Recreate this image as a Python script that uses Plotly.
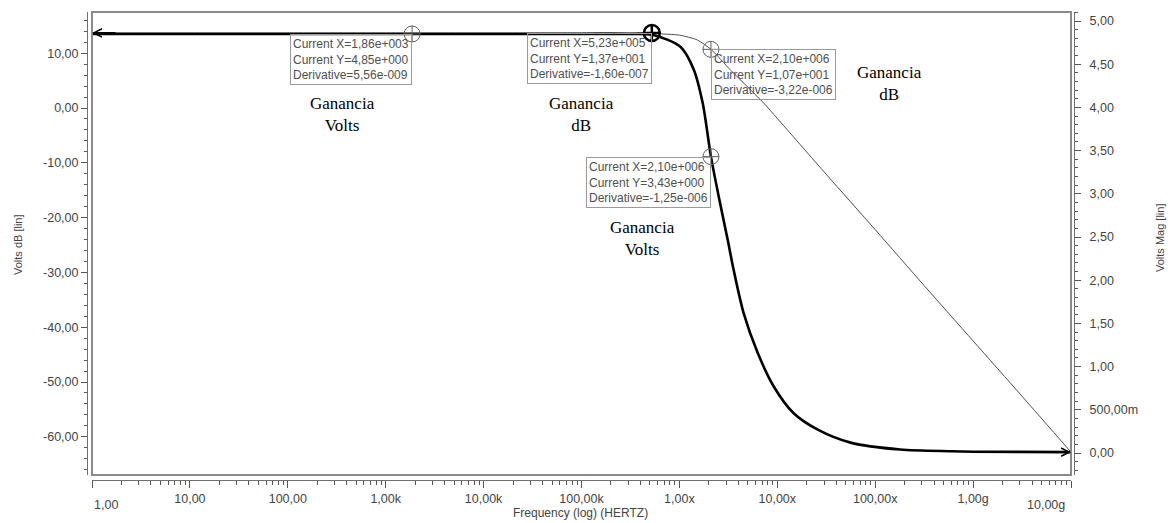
import math
import plotly.graph_objects as go

# ---------------- data ----------------
freq_volts = [1, 10, 100, 1e3, 1e4, 1e5, 3e5, 5.3e5, 1.03e6, 1.4e6, 1.73e6, 2.1e6,
              2.52e6, 3.11e6, 3.58e6, 4.53e6, 6.3e6, 9.2e6, 1.47e7, 2.59e7, 5.6e7,
              1.8e8, 5.9e8, 1e9, 1e10]
volts_mag = [4.85, 4.85, 4.85, 4.85, 4.85, 4.85, 4.85, 4.84, 4.70, 4.44, 4.05, 3.43,
             2.97, 2.47, 2.12, 1.62, 1.16, 0.77, 0.46, 0.27, 0.12,
             0.04, 0.02, 0.015, 0.01]

freq_db = [1, 10, 100, 1e3, 1e4, 1e5, 3e5, 5.3e5, 6.9e5, 1.0e6, 1.53e6, 2.1e6, 3.34e6,
           5e6, 7.26e6, 1e7, 3.16e7, 1e8, 3.16e8, 1e9, 3.16e9, 1e10]
gain_db = [13.7, 13.7, 13.7, 13.7, 13.7, 13.7, 13.7, 13.7, 13.5, 13.3, 12.4, 10.7, 6.9,
           3.8, 0.9, -1.9, -12.1, -22.2, -32.4, -42.5, -52.6, -62.8]

cursor_x = [1.86e3, 5.23e5, 2.10e6, 2.10e6]
cursor_y = [4.85, 13.7, 10.7, 3.43]
cursor_deriv = [5.56e-9, -1.60e-7, -3.22e-6, -1.25e-6]
cursor_axis = ["y2", "y", "y", "y2"]

x_tick_vals = [1, 10, 100, 1e3, 1e4, 1e5, 1e6, 1e7, 1e8, 1e9, 1e10]
x_tick_text = ["1,00", "10,00", "100,00", "1,00k", "10,00k", "100,00k",
               "1,00x", "10,00x", "100,00x", "1,00g", "10,00g"]
db_tick_vals = [10, 0, -10, -20, -30, -40, -50, -60]
db_tick_text = ["10,00", "0,00", "-10,00", "-20,00", "-30,00", "-40,00", "-50,00", "-60,00"]
mag_tick_vals = [5.0, 4.5, 4.0, 3.5, 3.0, 2.5, 2.0, 1.5, 1.0, 0.5, 0.0]
mag_tick_text = ["5,00", "4,50", "4,00", "3,50", "3,00", "2,50", "2,00", "1,50",
                 "1,00", "500,00m", "0,00"]

labels = [("Ganancia<br>Volts", 2.556, -1.1),
          ("Ganancia<br>dB", 5.0, -1.1),
          ("Ganancia<br>dB", 8.15, 4.4),
          ("Ganancia<br>Volts", 5.624, -23.9)]


def msim(v):
    s = f"{v:.2e}"
    m, e = s.split("e")
    e = int(e)
    sign = "+" if e >= 0 else "-"
    return f"{m.replace('.', ',')}e{sign}{abs(e):03d}"


# ---------------- layout geometry ----------------
W, H = 1168, 523
L, R, T, B = 87, 1074, 12, 480
pw, ph = R - L, B - T
FONT = "Liberation Sans"
TXT = "#444444"
TICKSIZE = 12.5

fig = go.Figure()

fig.add_trace(go.Scatter(x=freq_db, y=gain_db, mode="lines", yaxis="y",
                         line=dict(color="#505050", width=1, shape="spline", smoothing=0.7),
                         hoverinfo="skip"))
fig.add_trace(go.Scatter(x=freq_volts, y=volts_mag, mode="lines", yaxis="y2",
                         line=dict(color="black", width=2.6, shape="spline", smoothing=0.8),
                         hoverinfo="skip"))

# cursors
for i in range(4):
    bold = (i == 1)
    fig.add_trace(go.Scatter(
        x=[cursor_x[i]], y=[cursor_y[i]], mode="markers", yaxis=cursor_axis[i],
        marker=dict(symbol="circle-cross-open", size=16,
                    color="black" if bold else "#606060",
                    line=dict(width=2.5 if bold else 1, color="black" if bold else "#606060")),
        hoverinfo="skip"))

annotations = []
anchors = ["right", "right", "left", "right"]
for i in range(4):
    txt = (f"Current X={msim(cursor_x[i])}<br>Current Y={msim(cursor_y[i])}"
           f"<br>Derivative={msim(cursor_deriv[i])}")
    annotations.append(dict(
        x=math.log10(cursor_x[i]), y=cursor_y[i], xref="x", yref=cursor_axis[i],
        text=txt, showarrow=False, xanchor=anchors[i], yanchor="top", align="left",
        font=dict(family=FONT, size=12, color="#505050"),
        bordercolor="#9a9a9a", borderwidth=1, borderpad=2, bgcolor="rgba(255,255,255,0)"))

for text, lx, ly in labels:
    annotations.append(dict(x=lx, y=ly, xref="x", yref="y", text=text, showarrow=False,
                            xanchor="center", yanchor="middle",
                            font=dict(family="Liberation Serif", size=17, color="black")))

# end arrows of the curves
annotations.append(dict(x=0, y=gain_db[0], xref="x", yref="y", text="", showarrow=True,
                        ax=25, ay=0, arrowhead=5, arrowwidth=1.6, arrowsize=1,
                        arrowcolor="black"))
annotations.append(dict(x=10, y=volts_mag[-1], xref="x", yref="y2", text="", showarrow=True,
                        ax=-25, ay=0, arrowhead=5, arrowwidth=1.6, arrowsize=1,
                        arrowcolor="black"))


def px(xp):
    return (xp - L) / pw


def py(yp):
    return (B - yp) / ph


def paper_text(text, xp, yp, size, angle=0):
    return dict(x=px(xp), y=py(yp), xref="paper", yref="paper", text=text,
                textangle=angle, showarrow=False, xanchor="center", yanchor="middle",
                font=dict(family=FONT, size=size, color=TXT))


annotations += [
    paper_text("Volts dB [lin]", 18, 245, 11, -90),
    paper_text("Volts Mag [lin]", 1160, 238, 11, -90),
    paper_text("Frequency (log) (HERTZ)", 580, 513, 12),
    paper_text(x_tick_text[0], 106, 505, TICKSIZE),
    paper_text(x_tick_text[-1], 1046, 505, TICKSIZE),
]

minor_x = [k * 10 ** n for n in range(0, 10) for k in range(2, 10)]
shown_x_text = [""] + x_tick_text[1:-1] + [""]

xdom = [px(92), px(1071)]
ydom = [py(475), 1.0]

# dB axis range from pixel calibration: 0 dB at y=108, 5.48 px per dB
db_top = (108 - 12) / 5.48
db_bot = -(475 - 108) / 5.48
# Volts axis: 0 V at y=453, 86.4 px per V
v_top = (453 - 12) / 86.4
v_bot = -(475 - 453) / 86.4

axis_common = dict(showgrid=False, zeroline=False, showline=True, linecolor="#707070",
                   linewidth=1, ticks="outside", tickcolor="#555555",
                   tickfont=dict(family=FONT, size=TICKSIZE, color=TXT))

fig.update_layout(
    width=W, height=H, margin=dict(l=L, r=W - R, t=T, b=H - B),
    paper_bgcolor="white", plot_bgcolor="white", showlegend=False,
    xaxis=dict(type="log", range=[0, 10], domain=xdom, anchor="free", position=0,
               tickvals=x_tick_vals, ticktext=shown_x_text, ticklen=7,
               minor=dict(tickvals=minor_x, ticks="outside", ticklen=4, tickcolor="#555555"),
               **axis_common),
    yaxis=dict(range=[db_bot, db_top], domain=ydom, anchor="free", position=0, side="left",
               tickvals=db_tick_vals, ticktext=db_tick_text, ticklen=6,
               minor=dict(dtick=2, ticks="outside", ticklen=3, tickcolor="#555555"),
               **axis_common),
    yaxis2=dict(range=[v_bot, v_top], domain=ydom, anchor="free", position=1, side="right",
                overlaying="y", tickvals=mag_tick_vals, ticktext=mag_tick_text, ticklen=6,
                ticklabelstandoff=6,
                minor=dict(dtick=0.1, ticks="outside", ticklen=3, tickcolor="#555555"),
                **axis_common),
    annotations=annotations,
    shapes=[dict(type="rect", xref="x domain", yref="y domain", x0=0, x1=1, y0=0, y1=1,
                 line=dict(color="#8a8a8a", width=2), layer="above")],
)

fig.write_html("out.html")
